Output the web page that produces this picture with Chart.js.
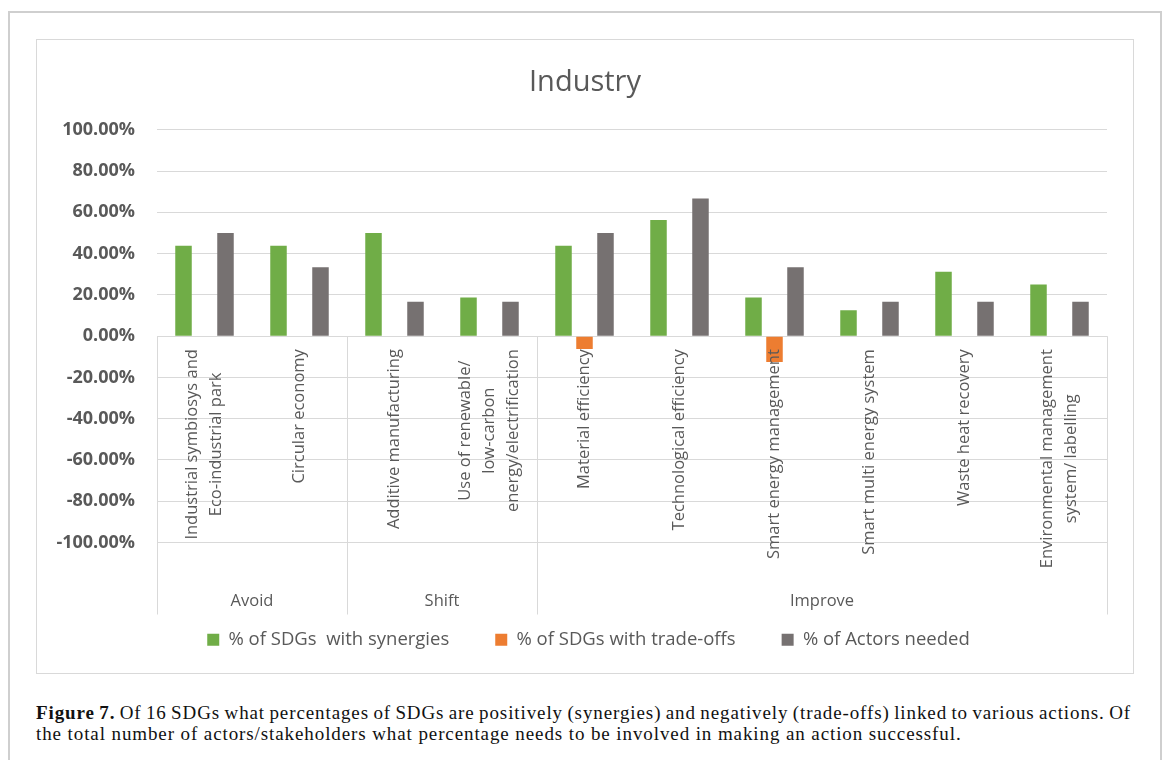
<!DOCTYPE html>
<html>
<head>
<meta charset="utf-8">
<script src="https://cdn.jsdelivr.net/npm/chart.js@4.4.0/dist/chart.umd.min.js"></script>
<style>
  body { margin: 0; background: #fff; width: 1168px; height: 760px; overflow: hidden; position: relative; }
  #frame { position: absolute; left: 8px; top: 11px; width: 1150px; height: 800px; border: 2px solid #cfcfcf; }
  #box { position: absolute; left: 36px; top: 39px; width: 1096px; height: 633px; border: 1px solid #d9d9d9; }
  #caption { position: absolute; left: 36px; top: 702px; width: 1095px; font-family: 'Liberation Serif', serif; font-size: 19px; letter-spacing: 0.9px; line-height: 21px; color: #111; }
  #caption div { white-space: nowrap; }
  #caption span { display: inline-block; }
</style>
</head>
<body>
<div id="frame"></div>
<div id="box"><canvas id="chart"></canvas></div>
<div id="caption">
  <div><span id="cap1"><b>Figure 7.</b> Of 16 SDGs what percentages of SDGs are positively (synergies) and negatively (trade-offs) linked to various actions. Of</span></div>
  <div>the total number of actors/stakeholders what percentage needs to be involved in making an action successful.</div>
</div>
<script>
const groups = ['Avoid', 'Shift', 'Improve'];
const groupSizes = [2, 2, 6];
const actions = [
    ['Industrial symbiosys and', 'Eco-industrial park'],
    ['Circular economy'],
    ['Additive manufacturing'],
    ['Use of renewable/', 'low-carbon', 'energy/electrification'],
    ['Material efficiency'],
    ['Technological efficiency'],
    ['Smart energy management'],
    ['Smart multi energy system'],
    ['Waste heat recovery'],
    ['Environmental management', 'system/ labelling']
];
const synergies = [43.75, 43.75, 50, 18.75, 43.75, 56.25, 18.75, 12.5, 31.25, 25];
const tradeOffs = [0, 0, 0, 0, -6.25, 0, -12.5, 0, 0, 0];
const actorsNeeded = [50, 33.33, 16.67, 16.67, 50, 66.67, 33.33, 16.67, 16.67, 16.67];
const yMin = -100;
const yMax = 100;
const yStep = 20;

const textColor = '#595959';
const lineColor = '#d9d9d9';

// first caption line is justified to the full width
const cap1 = document.getElementById('cap1');
const gaps = cap1.textContent.split(' ').length - 1;
cap1.style.wordSpacing = ((1095 - cap1.offsetWidth) / gaps) + 'px';

// category labels (rotated, lines centred) and the Avoid/Shift/Improve row
const actionAxis = {
    id: 'actionAxis',
    afterLayout(chart) {
        // centre title and legend the way Excel does (ignoring the y labels)
        chart.legend.left = 33;
        chart.titleBlock.left = 26;
    },
    afterDatasetsDraw(chart) {
        const ctx = chart.ctx;
        const area = chart.chartArea;
        const x = chart.scales.x;
        const y = chart.scales.y;
        const zeroY = y.getPixelForValue(0);
        const half = (x.getPixelForValue(1) - x.getPixelForValue(0)) / 2;
        const lineBottom = area.bottom + 72;

        ctx.save();
        ctx.strokeStyle = lineColor;
        ctx.lineWidth = 1;
        const edges = [0];
        groupSizes.forEach(n => edges.push(edges[edges.length - 1] + n));
        edges.forEach(i => {
            const px = Math.round(x.getPixelForValue(i) - half) + 0.5;
            ctx.beginPath();
            ctx.moveTo(px, zeroY);
            ctx.lineTo(px, lineBottom);
            ctx.stroke();
        });

        ctx.fillStyle = textColor;
        ctx.font = '16.5px "Open Sans"';
        ctx.textAlign = 'center';
        ctx.textBaseline = 'middle';
        const lineH = 24;
        actions.forEach((lines, i) => {
            const cx = x.getPixelForValue(i);
            const maxW = Math.max(...lines.map(l => ctx.measureText(l).width));
            ctx.save();
            ctx.translate(cx, zeroY + 13 + maxW / 2);
            ctx.rotate(-Math.PI / 2);
            lines.forEach((l, j) => {
                ctx.fillText(l, 0, (j - (lines.length - 1) / 2) * lineH);
            });
            ctx.restore();
        });

        groups.forEach((g, k) => {
            const gx = (x.getPixelForValue(edges[k]) + x.getPixelForValue(edges[k + 1])) / 2 - half;
            ctx.fillText(g, gx, area.bottom + 59);
        });
        ctx.restore();
    }
};

new Chart(document.getElementById('chart'), {
    type: 'bar',
    data: {
        labels: actions,
        datasets: [
            { label: '% of SDGs  with synergies', data: synergies, backgroundColor: '#70ad47' },
            { label: '% of SDGs with trade-offs', data: tradeOffs, backgroundColor: '#ed7d31' },
            { label: '% of Actors needed', data: actorsNeeded, backgroundColor: '#767171' }
        ]
    },
    options: {
        responsive: true,
        maintainAspectRatio: false,
        animation: false,
        categoryPercentage: 0.663,
        barPercentage: 0.786,
        layout: { padding: { left: 0, right: 26, top: 0, bottom: 14 } },
        plugins: {
            title: {
                display: true,
                text: 'Industry',
                color: textColor,
                font: { family: '"Open Sans"', size: 29, weight: 'normal' },
                padding: { top: 25, bottom: 30 }
            },
            legend: {
                position: 'bottom',
                labels: {
                    color: textColor,
                    font: { family: '"Open Sans"', size: 18.5 },
                    boxWidth: 12,
                    boxHeight: 12,
                    padding: 46
                }
            },
            tooltip: { enabled: false }
        },
        scales: {
            x: {
                position: 'bottom',
                grid: { display: false },
                border: { display: false },
                ticks: { display: false },
                afterFit(scale) { scale.height = 42; }
            },
            y: {
                min: yMin,
                max: yMax,
                grid: { color: lineColor, drawTicks: false },
                border: { display: false },
                ticks: {
                    stepSize: yStep,
                    padding: 22,
                    color: textColor,
                    font: { family: '"Open Sans"', size: 18, weight: 'bold' },
                    callback: v => v.toFixed(2) + '%'
                },
                afterFit(scale) { scale.width = 120; }
            }
        }
    },
    plugins: [actionAxis]
});
</script>
</body>
</html>
